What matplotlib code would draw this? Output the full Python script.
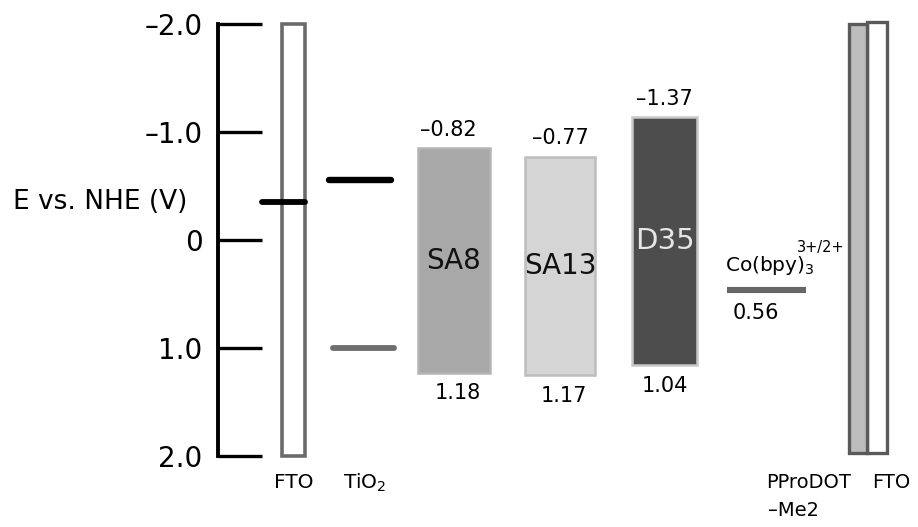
import matplotlib
matplotlib.use("Agg")
import matplotlib.pyplot as plt
from matplotlib.patches import Rectangle

plt.rcParams['font.family'] = ['DejaVu Sans']
plt.rcParams['mathtext.default'] = 'regular'

# energy levels as drawn (V vs NHE)
fto_level = -0.35
tio2_cb = -0.56
tio2_vb = 1.0
dyes = ['SA8', 'SA13', 'D35']
dye_top = [-0.85, -0.77, -1.14]
dye_bottom = [1.23, 1.25, 1.16]
dye_top_label = ['\u20130.82', '\u20130.77', '\u20131.37']
dye_bottom_label = ['1.18', '1.17', '1.04']
dye_fill = ['#a8a8a8', '#d5d5d5', '#4d4d4d']
dye_edge = ['#b4b4b4', '#bdbdbd', '#c8c8c8']
dye_text = ['#111111', '#111111', '#e6e6e6']
co_level = 0.46
co_label = '0.56'
electrode_top = -2.0
electrode_bottom = 1.97
yticks = [-2, -1, 0, 1, 2]
yticklabels = ['\u20132.0', '\u20131.0', '0', '1.0', '2.0']

fig = plt.figure(figsize=(9.18, 5.27), dpi=100)
ax = fig.add_axes([0, 71 / 527, 1, 432 / 527])
ax.set_xlim(0, 918)
ax.set_ylim(2.0, -2.0)

for s in ['top', 'right', 'bottom']:
    ax.spines[s].set_visible(False)
ax.spines['left'].set_position(('data', 218))
ax.spines['left'].set_linewidth(2.8)
ax.set_xticks([])
ax.set_yticks(yticks)
ax.set_yticklabels(yticklabels)
ax.tick_params(axis='y', direction='in', length=31.5, width=2.4, pad=11,
               labelsize=20)
ax.text(100, fto_level, 'E vs. NHE (V)', fontsize=19, ha='center', va='center')

# left FTO
ax.add_patch(Rectangle((282, -2.0), 23, 4.0, facecolor='white',
                       edgecolor='#6a6a6a', lw=2.6, clip_on=False))
ax.hlines(fto_level, 262, 305, color='black', lw=4.2, capstyle='round')
ax.text(294, 2.25, 'FTO', fontsize=14.5, ha='center', va='center')

# TiO2
ax.hlines(tio2_cb, 329, 391, color='black', lw=4.6, capstyle='round')
ax.hlines(tio2_vb, 333, 394, color='#6e6e6e', lw=4.2, capstyle='round')
ax.text(365, 2.25, 'TiO$_2$', fontsize=14.5, ha='center', va='center')

# dyes
dye_x = [418, 525, 632]
dye_w = [72, 70, 65]
for i, name in enumerate(dyes):
    x0, w = dye_x[i], dye_w[i]
    ax.add_patch(Rectangle((x0, dye_top[i]), w, dye_bottom[i] - dye_top[i],
                           facecolor=dye_fill[i], edgecolor=dye_edge[i], lw=1.8))
    cy = (dye_top[i] + dye_bottom[i]) / 2
    ax.text(x0 + w / 2, cy, name, fontsize=20 if i < 2 else 21,
            ha='center', va='center', color=dye_text[i])
    ax.text(x0 + w / 2 - (6 if i == 0 else 0), dye_top[i] - 0.17,
            dye_top_label[i], fontsize=15, ha='center', va='center')
    ax.text(x0 + w / 2 + (4 if i < 2 else 0), dye_bottom[i] + 0.19,
            dye_bottom_label[i], fontsize=15, ha='center', va='center')

# Co(bpy)3 redox couple
ax.hlines(co_level, 727, 806, color='#666666', lw=4.4)
ax.text(725, co_level - 0.12, 'Co(bpy)$_3$', fontsize=14.5, ha='left', va='bottom')
ax.text(797, 0.07, '3+/2+', fontsize=10.5, ha='left', va='center')
ax.text(756, co_level + 0.22, co_label, fontsize=15, ha='center', va='center')

# PProDOT-Me2 / FTO counter electrode
ax.add_patch(Rectangle((867, electrode_top - 0.02), 20,
                       electrode_bottom - electrode_top + 0.02,
                       facecolor='white', edgecolor='#5a5a5a', lw=2.4,
                       clip_on=False))
ax.add_patch(Rectangle((849, electrode_top), 18, electrode_bottom - electrode_top,
                       facecolor='#bdbdbd', edgecolor='#5a5a5a', lw=2.4,
                       clip_on=False))
ax.text(851, 2.25, 'PProDOT', fontsize=14, ha='right', va='center')
ax.text(768, 2.5, '\u2013Me2', fontsize=14, ha='left', va='center')
ax.text(872, 2.25, 'FTO', fontsize=14, ha='left', va='center')

fig.savefig('out.png', dpi=100)
